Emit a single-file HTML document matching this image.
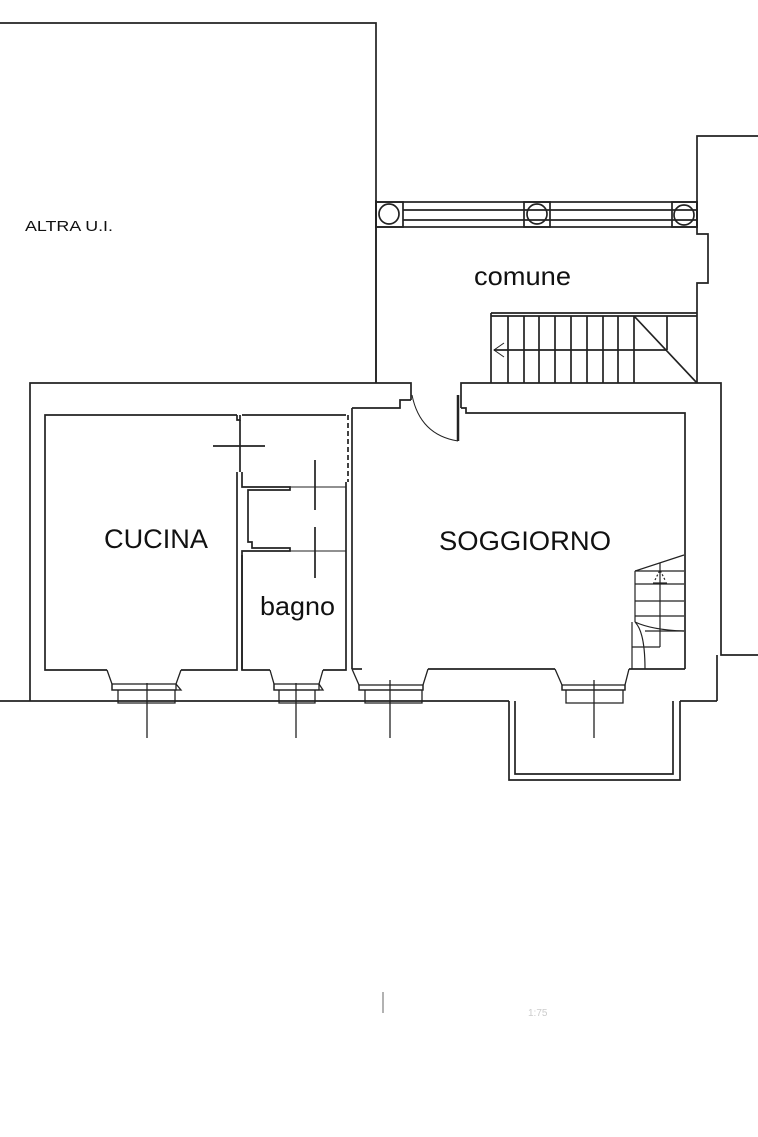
<!DOCTYPE html>
<html><head><meta charset="utf-8"><style>
html,body{margin:0;padding:0;background:#fff;width:758px;height:1137px;overflow:hidden}
svg{display:block}
text{font-family:"Liberation Sans",sans-serif;fill:#111}
</style></head><body>
<svg width="758" height="1137" viewBox="0 0 758 1137" xmlns="http://www.w3.org/2000/svg">
<g fill="none" stroke="#222" stroke-width="1.7">
<polyline points="0,23 376,23 376,383"/>
<polyline points="376,200 376,383"/>
<rect x="376" y="202" width="321" height="25"/>
<line x1="403" y1="210" x2="697" y2="210"/>
<line x1="403" y1="220" x2="697" y2="220"/>
<rect x="376" y="202" width="27" height="25"/>
<rect x="524" y="202" width="26" height="25"/>
<rect x="672" y="202" width="25" height="25"/>
<circle cx="389" cy="214" r="10"/>
<circle cx="537" cy="214" r="10"/>
<circle cx="684" cy="215" r="10"/>
<polyline points="758,136 697,136 697,234 708,234 708,283 697,283 697,383"/>
<line x1="491" y1="313" x2="697" y2="313"/>
<line x1="491" y1="316" x2="697" y2="316"/>
<line x1="491" y1="313" x2="491" y2="383"/>
<line x1="508" y1="316" x2="508" y2="383"/>
<line x1="524" y1="316" x2="524" y2="383"/>
<line x1="539" y1="316" x2="539" y2="383"/>
<line x1="555" y1="316" x2="555" y2="383"/>
<line x1="571" y1="316" x2="571" y2="383"/>
<line x1="587" y1="316" x2="587" y2="383"/>
<line x1="603" y1="316" x2="603" y2="383"/>
<line x1="618" y1="316" x2="618" y2="383"/>
<line x1="634" y1="316" x2="634" y2="383"/>
<line x1="667" y1="316" x2="667" y2="350"/>
<line x1="494" y1="350" x2="667" y2="350"/>
<line x1="634" y1="316" x2="697" y2="383"/>
<polyline points="504,343 494,350 504,357" stroke-width="1"/>
<polyline points="411,400 411,383 30,383 30,701"/>
<line x1="0" y1="701" x2="509" y2="701"/>
<line x1="680" y1="701" x2="717" y2="701"/>
<polyline points="461,408 461,383 721,383 721,655 758,655"/>
<polyline points="717,655 717,701"/>
<polyline points="411,400 400,400 400,408 352,408"/>
<line x1="458" y1="395" x2="458" y2="441" stroke-width="2.5"/>
<path d="M412,395 Q420,435 458,441" stroke-width="1"/>
<polyline points="461,408 466,408 466,413 685,413 685,669"/>
<polyline points="237,415 45,415 45,670 107,670"/>
<polyline points="237,415 237,420 240,420 240,415"/>
<polyline points="237,472 237,670 181,670"/>
<polyline points="242,472 242,487 290,487 290,490 248,490 248,542 252,542 252,548 290,548 290,551 242,551 242,670"/>
<line x1="213" y1="446" x2="265" y2="446"/>
<line x1="240" y1="420" x2="240" y2="472"/>
<line x1="242" y1="415" x2="346" y2="415"/>
<line x1="290" y1="487" x2="346" y2="487" stroke-width="1"/>
<line x1="290" y1="551" x2="346" y2="551" stroke-width="1"/>
<line x1="315" y1="460" x2="315" y2="510"/>
<line x1="315" y1="527" x2="315" y2="578"/>
<polyline points="242,555 242,670 270,670"/>
<polyline points="346,555 346,670 323,670"/>
<line x1="346" y1="482" x2="346" y2="555"/>
<line x1="352" y1="408" x2="352" y2="669"/>
<line x1="348" y1="415" x2="348" y2="482" stroke-dasharray="5,3"/>
<polyline points="352,669 362,669"/>
<polyline points="428,669 555,669"/>
<polyline points="629,669 685,669"/>
<g stroke-width="1.3">
<polyline points="107,670 112,684 112,690 181,690 176,684 181,670"/>
<rect x="112" y="684" width="64" height="6"/>
<polyline points="118,690 118,703 175,703 175,690"/>
<line x1="147" y1="683" x2="147" y2="738"/>
<polyline points="270,670 274,684 274,690 323,690 319,684 323,670"/>
<rect x="274" y="684" width="45" height="6"/>
<polyline points="279,690 279,703 315,703 315,690"/>
<line x1="296" y1="683" x2="296" y2="738"/>
<polyline points="352,669 359,685 359,690 423,690 423,685 428,669"/>
<rect x="359" y="685" width="64" height="5"/>
<polyline points="365,690 365,703 422,703 422,690"/>
<line x1="390" y1="680" x2="390" y2="738"/>
<polyline points="555,669 562,685 562,690 625,690 625,685 629,669"/>
<rect x="562" y="685" width="63" height="5"/>
<polyline points="566,690 566,703 623,703 623,690"/>
<line x1="594" y1="680" x2="594" y2="738"/>
</g>
<polyline points="509,701 509,780 680,780 680,701"/>
<polyline points="515,701 515,774 673,774 673,701"/>
<g stroke-width="1.2">
<line x1="635" y1="571" x2="684" y2="555"/>
<line x1="635" y1="571" x2="635" y2="622"/>
<line x1="635" y1="571" x2="684" y2="571"/>
<line x1="635" y1="584" x2="684" y2="584"/>
<line x1="635" y1="601" x2="684" y2="601"/>
<line x1="635" y1="616" x2="684" y2="616"/>
<line x1="645" y1="631" x2="684" y2="631"/>
<line x1="632" y1="647" x2="660" y2="647"/>
<line x1="660" y1="563" x2="660" y2="647"/>
<path d="M635,622 Q652,630 684,631"/>
<path d="M635,622 Q645,632 645,669"/>
<line x1="632" y1="622" x2="632" y2="669"/>
<line x1="653" y1="583" x2="667" y2="583"/>
<path d="M655,580 L660,570 L665,580" stroke-dasharray="2,2"/>
</g>
</g>
<line x1="383" y1="992" x2="383" y2="1013" stroke="#999" stroke-width="1.5"/>
<text x="528" y="1016" font-size="10" style="fill:#ccc">1:75</text>
<text x="25" y="231" font-size="15" textLength="88" lengthAdjust="spacingAndGlyphs">ALTRA U.I.</text>
<text x="474" y="285" font-size="26" textLength="97" lengthAdjust="spacingAndGlyphs">comune</text>
<text x="104" y="548" font-size="27" textLength="104" lengthAdjust="spacingAndGlyphs">CUCINA</text>
<text x="439" y="550" font-size="27" textLength="172" lengthAdjust="spacingAndGlyphs">SOGGIORNO</text>
<text x="260" y="615" font-size="26" textLength="75" lengthAdjust="spacingAndGlyphs">bagno</text>
</svg>
</body></html>
